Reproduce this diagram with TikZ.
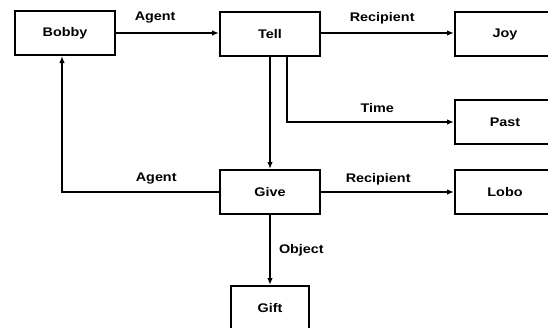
\documentclass[tikz,border=0pt]{standalone}
\usepackage{fontspec}
\setmainfont{Liberation Sans}
\newfontfamily\diagfont[FakeStretch=1.15]{Liberation Sans Bold}
\usetikzlibrary{arrows.meta}
\begin{document}
\begin{tikzpicture}[x=1pt,y=-1pt,
  box/.style={draw,line width=2pt,minimum width=100pt,minimum height=44pt,inner sep=0pt,font=\diagfont\fontsize{12.5}{15}\selectfont},
  arr/.style={line width=2pt,-{Latex[length=7pt,width=5.5pt]}},
  lab/.style={font=\diagfont\fontsize{12.5}{15}\selectfont,inner sep=0pt}]
\useasboundingbox (0,0) rectangle (548,327);
\clip (0,0) rectangle (548,327);
\node[box] (bobby) at (65,33) {Bobby};
\node[box] (tell) at (270,34) {Tell};
\node[box] (joy) at (505,34) {Joy};
\node[box] (past) at (505,122) {Past};
\node[box] (give) at (270,192) {Give};
\node[box] (lobo) at (505,192) {Lobo};
\node[box,minimum width=78pt] (gift) at (270,308) {Gift};
\draw[arr] (bobby.east) -- node[lab,pos=0.38,yshift=15pt]{Agent} (bobby.east -| tell.west);
\draw[arr] (tell.east |- bobby.east) -- node[lab,pos=0.46,yshift=15pt]{Recipient} (bobby.east -| joy.west);
\draw[arr] ([xshift=17pt]tell.south) |- node[lab,pos=0.77,yshift=14pt]{Time} (past.west);
\draw[arr] (tell.south) -- (give.north);
\draw[arr] (give.west) -| node[lab,pos=0.2,yshift=13pt]{Agent} ([xshift=-3pt]bobby.south);
\draw[arr] (give.east) -- node[lab,pos=0.43,yshift=13pt]{Recipient} (lobo.west);
\draw[arr] (give.south) -- node[lab,pos=0.5,anchor=west,xshift=8pt]{Object} (gift.north);
\end{tikzpicture}
\end{document}
